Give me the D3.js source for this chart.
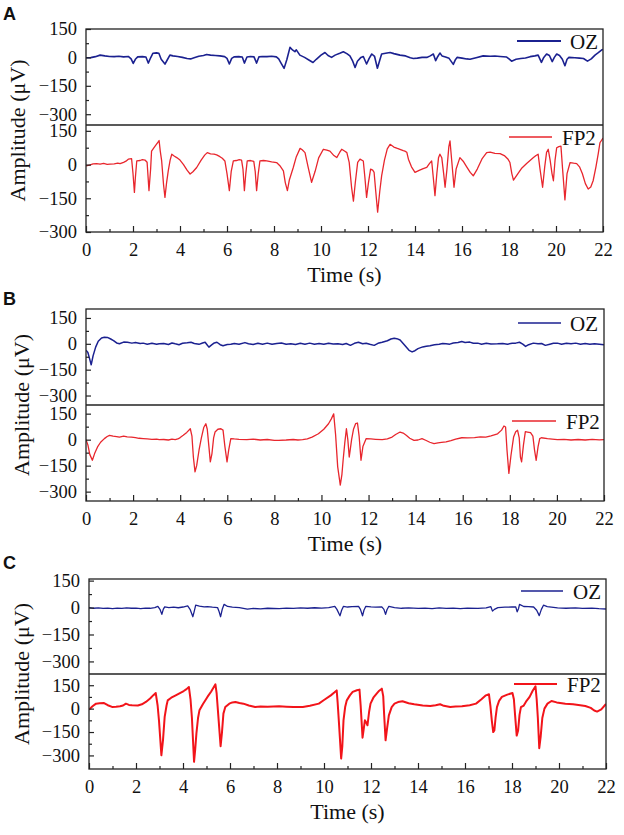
<!DOCTYPE html>
<html>
<head>
<meta charset="utf-8">
<script src="https://cdn.jsdelivr.net/npm/d3@7"></script>
<style>
  body { margin: 0; background: #fff; }
</style>
</head>
<body>
<svg id="fig" width="624" height="835"></svg>
<script>
// ---- data: [time (s), amplitude (uV)] ----
var aOZ = [[0,-2],[0.2,-1],[0.4,4],[0.6,12],[0.8,8],[1.0,5],[1.2,4],[1.4,6],[1.6,3],[1.8,5],[1.92,-8],[2.01,-32],[2.1,-10],[2.2,3],[2.4,4],[2.55,2],[2.65,-30],[2.75,-2],[2.85,22],[3.0,24],[3.1,22],[3.2,-10],[3.36,-35],[3.45,-15],[3.57,12],[3.7,8],[3.9,5],[4.1,0],[4.3,-6],[4.45,-8],[4.6,-2],[4.8,6],[5.0,10],[5.13,15],[5.3,12],[5.5,10],[5.7,8],[5.9,4],[6.0,-5],[6.1,-35],[6.2,-5],[6.3,3],[6.5,4],[6.65,2],[6.74,-30],[6.85,2],[7.0,5],[7.15,3],[7.26,-30],[7.36,3],[7.5,5],[7.7,4],[7.9,6],[8.1,3],[8.2,-8],[8.3,-30],[8.43,-58],[8.55,-10],[8.68,53],[8.8,38],[8.89,30],[8.95,40],[9.1,12],[9.3,0],[9.5,-15],[9.66,-27],[9.8,-10],[10.0,12],[10.17,26],[10.3,10],[10.45,0],[10.6,12],[10.8,22],[10.95,30],[11.1,20],[11.23,8],[11.35,-20],[11.45,-53],[11.55,-20],[11.7,0],[11.8,5],[11.94,-35],[12.05,-5],[12.16,18],[12.28,5],[12.4,-57],[12.5,-15],[12.58,18],[12.75,22],[12.94,26],[13.1,20],[13.36,12],[13.6,8],[13.8,-2],[13.93,-6],[14.1,-4],[14.3,0],[14.5,0],[14.65,8],[14.78,18],[14.88,-17],[14.97,5],[15.06,23],[15.15,8],[15.3,2],[15.45,-5],[15.63,-37],[15.72,-12],[15.79,0],[16.0,-4],[16.2,-8],[16.34,-10],[16.6,-2],[16.9,8],[17.2,6],[17.4,7],[17.62,5],[17.9,2],[18.0,-8],[18.11,-20],[18.3,-10],[18.5,-6],[18.7,-3],[18.9,4],[19.1,8],[19.24,12],[19.38,-26],[19.48,0],[19.6,18],[19.72,10],[19.84,-22],[19.93,0],[20.03,18],[20.15,10],[20.27,-10],[20.38,-44],[20.47,-10],[20.55,0],[20.8,-2],[21.0,-4],[21.17,-6],[21.34,-20],[21.5,-8],[21.66,12],[21.8,25],[21.95,40],[22,42]];

var aFP2 = [[0,-6],[0.15,-2],[0.3,3],[0.45,4],[0.6,2],[0.75,5],[0.9,1],[1.02,2],[1.2,3],[1.35,6],[1.45,4],[1.6,10],[1.7,15],[1.8,24],[1.94,26],[2.0,-40],[2.06,-124],[2.1,-60],[2.16,16],[2.3,18],[2.4,22],[2.51,20],[2.6,10],[2.68,-116],[2.75,-20],[2.79,60],[2.94,82],[3.05,98],[3.11,107],[3.16,60],[3.22,16],[3.3,-90],[3.36,-146],[3.43,-80],[3.5,-28],[3.58,20],[3.65,46],[3.75,38],[3.86,31],[4.0,20],[4.15,0],[4.3,-25],[4.43,-42],[4.55,-32],[4.71,-13],[4.9,20],[5.05,42],[5.16,53],[5.3,48],[5.45,46],[5.56,43],[5.7,35],[5.8,28],[5.91,16],[6.0,-40],[6.1,-116],[6.18,-30],[6.27,16],[6.4,18],[6.52,22],[6.62,20],[6.68,-20],[6.74,-116],[6.8,-40],[6.86,16],[7.0,18],[7.14,14],[7.2,-30],[7.26,-116],[7.33,-40],[7.4,16],[7.55,18],[7.69,16],[7.9,12],[8.11,9],[8.25,-5],[8.4,-28],[8.48,-80],[8.57,-116],[8.65,-70],[8.82,-13],[8.95,35],[9.11,72],[9.2,66],[9.32,53],[9.45,-10],[9.6,-79],[9.75,-30],[9.9,30],[10.1,68],[10.25,64],[10.38,60],[10.55,40],[10.67,31],[10.8,55],[10.88,68],[11.0,60],[11.1,53],[11.2,10],[11.3,-100],[11.38,-163],[11.46,-80],[11.56,10],[11.66,24],[11.8,16],[11.87,-60],[11.94,-146],[12.02,-80],[12.11,-20],[12.2,-25],[12.26,-35],[12.33,-120],[12.41,-212],[12.5,-120],[12.58,-50],[12.7,20],[12.82,70],[12.94,90],[13.1,78],[13.25,72],[13.36,68],[13.5,62],[13.57,60],[13.65,55],[13.72,24],[13.85,-10],[14.0,-35],[14.2,-25],[14.35,-18],[14.5,-13],[14.62,5],[14.71,16],[14.78,-60],[14.85,-138],[14.93,-40],[15.0,30],[15.06,46],[15.14,30],[15.22,-40],[15.28,-101],[15.36,-20],[15.44,80],[15.49,105],[15.56,20],[15.66,-101],[15.75,-20],[15.91,31],[16.05,15],[16.2,-10],[16.35,-35],[16.48,-50],[16.65,-20],[16.85,25],[17.05,53],[17.2,55],[17.4,50],[17.62,49],[17.8,40],[17.95,25],[18.04,9],[18.12,-40],[18.19,-69],[18.35,-45],[18.55,-15],[18.75,5],[19.04,31],[19.15,40],[19.24,46],[19.32,-20],[19.43,-101],[19.52,-10],[19.6,55],[19.67,68],[19.75,20],[19.83,-40],[19.89,-72],[19.96,20],[20.03,75],[20.12,80],[20.21,82],[20.28,-20],[20.38,-157],[20.47,-40],[20.6,9],[20.75,6],[20.88,4],[21.0,-10],[21.12,-40],[21.25,-85],[21.37,-109],[21.48,-100],[21.58,-72],[21.7,-10],[21.8,50],[21.87,97],[22,118]];

var bOZ = [[0,-37],[0.08,-50],[0.16,-90],[0.22,-122],[0.3,-70],[0.41,-19],[0.52,15],[0.66,34],[0.78,38],[0.91,37],[1.05,28],[1.17,19],[1.3,5],[1.42,0],[1.6,10],[1.76,9],[1.95,4],[2.1,7],[2.3,2],[2.43,4],[2.6,-2],[2.8,3],[3.0,-3],[3.11,0],[3.3,2],[3.5,-4],[3.65,5],[3.79,0],[3.95,-5],[4.1,3],[4.3,6],[4.46,9],[4.6,2],[4.8,-3],[4.95,5],[5.06,9],[5.14,-5],[5.22,-19],[5.35,-5],[5.45,5],[5.56,9],[5.7,-5],[5.82,-11],[6.0,-4],[6.15,-3],[6.3,2],[6.5,-2],[6.75,7],[6.9,0],[7.1,-4],[7.3,3],[7.5,-2],[7.7,4],[7.9,-3],[8.1,2],[8.3,5],[8.5,-3],[8.7,1],[8.9,-4],[9.1,3],[9.3,-2],[9.5,4],[9.7,-3],[9.9,2],[10.1,-2],[10.3,3],[10.5,-1],[10.7,0],[10.9,-4],[11.05,2],[11.23,-9],[11.4,3],[11.57,9],[11.75,0],[11.9,3],[12.05,-3],[12.24,-9],[12.4,3],[12.58,9],[12.8,18],[12.95,28],[13.09,32],[13.2,30],[13.34,22],[13.47,2],[13.6,-19],[13.72,-38],[13.85,-47],[13.97,-40],[14.1,-28],[14.3,-18],[14.45,-14],[14.61,-11],[14.8,-6],[15.0,-3],[15.15,2],[15.29,0],[15.45,-2],[15.6,5],[15.8,8],[15.96,13],[16.1,8],[16.3,10],[16.45,3],[16.64,4],[16.8,-2],[17.0,3],[17.2,-1],[17.48,0],[17.7,2],[17.9,-2],[18.1,3],[18.25,4],[18.41,9],[18.55,-2],[18.67,-15],[18.8,-5],[19.0,4],[19.2,0],[19.35,2],[19.51,-9],[19.7,-2],[19.85,3],[20.02,4],[20.2,-2],[20.4,3],[20.6,0],[20.8,4],[21.0,-2],[21.2,2],[21.4,-3],[21.6,1],[21.8,-2],[22,-6]];

var bFP2 = [[0,0],[0.08,-30],[0.16,-85],[0.27,-119],[0.38,-75],[0.49,-42],[0.62,-15],[0.78,6],[0.9,18],[1.0,25],[1.15,20],[1.3,18],[1.42,15],[1.6,20],[1.75,16],[1.93,15],[2.1,12],[2.25,8],[2.43,6],[2.6,4],[2.8,2],[3.0,3],[3.11,0],[3.3,1],[3.5,-2],[3.65,3],[3.79,0],[3.9,4],[4.0,12],[4.13,25],[4.28,42],[4.43,63],[4.5,20],[4.56,-100],[4.63,-186],[4.7,-150],[4.8,-61],[4.9,10],[5.0,70],[5.09,92],[5.15,60],[5.22,-40],[5.28,-128],[5.35,-80],[5.42,10],[5.48,44],[5.6,60],[5.73,63],[5.82,55],[5.9,-40],[5.99,-128],[6.06,-60],[6.15,6],[6.3,4],[6.5,2],[6.83,0],[7.1,3],[7.4,-2],[7.7,1],[8.0,-4],[8.18,-4],[8.5,-2],[8.8,1],[9.0,-2],[9.2,0],[9.4,5],[9.6,15],[9.87,34],[10.1,60],[10.3,92],[10.42,120],[10.52,149],[10.6,30],[10.69,-157],[10.8,-262],[10.87,-200],[10.92,-119],[10.99,-20],[11.06,63],[11.12,0],[11.18,-100],[11.23,-50],[11.28,0],[11.36,60],[11.45,92],[11.53,96],[11.6,20],[11.68,-119],[11.76,-40],[11.9,6],[12.1,4],[12.3,2],[12.58,0],[12.8,5],[13.0,15],[13.15,30],[13.34,44],[13.47,38],[13.6,25],[13.75,8],[13.93,-4],[14.1,-2],[14.27,6],[14.45,-5],[14.6,-15],[14.78,-23],[14.95,-18],[15.1,-16],[15.29,-13],[15.5,-6],[15.7,3],[15.96,11],[16.2,10],[16.5,12],[16.75,16],[16.98,15],[17.2,22],[17.48,34],[17.65,55],[17.75,79],[17.82,73],[17.88,-60],[17.96,-195],[18.05,-90],[18.16,15],[18.25,45],[18.33,54],[18.4,10],[18.45,-100],[18.5,-128],[18.58,-30],[18.66,46],[18.75,44],[18.88,40],[18.98,20],[19.05,-60],[19.12,-119],[19.2,-40],[19.27,6],[19.34,11],[19.6,6],[19.8,3],[20.02,0],[20.3,2],[20.6,-2],[20.9,1],[21.2,-2],[21.5,2],[21.8,-1],[22,0]];

var cOZ = [[0,0],[0.2,-4],[0.4,-2],[0.6,-5],[0.8,-3],[1.0,-6],[1.2,-3],[1.4,-5],[1.6,-2],[1.8,-4],[2.0,-3],[2.2,-6],[2.4,-3],[2.6,-4],[2.8,0],[2.93,7],[3.02,-10],[3.1,-38],[3.16,-10],[3.22,4],[3.4,0],[3.6,2],[3.8,-1],[4.0,3],[4.2,9],[4.3,-10],[4.42,-51],[4.48,-20],[4.54,13],[4.7,8],[4.9,4],[5.04,5],[5.25,2],[5.47,0],[5.53,-20],[5.6,-51],[5.67,-10],[5.75,18],[5.9,6],[6.1,2],[6.4,0],[6.74,-9],[7.0,-5],[7.3,-7],[7.6,-4],[8.09,-6],[8.4,-3],[8.7,-5],[9.0,-2],[9.3,-4],[9.6,-1],[9.9,-3],[10.2,0],[10.46,7],[10.55,-10],[10.68,-46],[10.75,-15],[10.83,7],[11.0,3],[11.2,5],[11.47,7],[11.55,-10],[11.64,-46],[11.7,-15],[11.78,7],[12.0,4],[12.2,2],[12.46,4],[12.55,-10],[12.62,-38],[12.68,-12],[12.76,7],[13.0,0],[13.3,-4],[13.6,-2],[14.01,-5],[14.3,-3],[14.6,-6],[14.9,-2],[15.2,-5],[15.5,-3],[15.8,-6],[16.1,-3],[16.55,-5],[16.9,-2],[17.1,5],[17.17,-20],[17.25,-10],[17.4,0],[17.7,2],[18.0,3],[18.16,4],[18.22,-24],[18.28,-5],[18.32,18],[18.5,6],[18.7,5],[18.92,3],[19.05,-15],[19.16,-45],[19.25,-10],[19.34,13],[19.5,5],[19.94,-2],[20.3,-4],[20.7,-2],[21.0,-5],[21.4,-3],[21.7,-6],[22,-8]];

var cFP2 = [[0,-6],[0.15,15],[0.3,32],[0.45,34],[0.64,36],[0.8,22],[0.98,11],[1.15,12],[1.32,15],[1.45,20],[1.57,32],[1.7,24],[1.83,21],[2.08,20],[2.25,28],[2.42,43],[2.6,65],[2.75,88],[2.84,100],[2.92,20],[2.98,-80],[3.08,-299],[3.15,-200],[3.22,-53],[3.3,20],[3.35,53],[3.5,70],[3.69,85],[3.85,98],[4.03,113],[4.15,125],[4.25,139],[4.32,60],[4.38,-60],[4.47,-341],[4.52,-260],[4.57,-160],[4.64,-60],[4.7,-11],[4.85,30],[5.04,75],[5.2,110],[5.38,156],[5.43,100],[5.5,-40],[5.6,-241],[5.66,-150],[5.72,-32],[5.8,10],[5.97,32],[6.1,40],[6.23,43],[6.4,36],[6.57,32],[6.8,20],[7.07,11],[7.3,14],[7.6,12],[8.09,15],[8.4,12],[8.7,10],[9.1,11],[9.4,18],[9.78,32],[10.0,55],[10.29,85],[10.45,105],[10.54,117],[10.58,40],[10.63,-75],[10.73,-320],[10.78,-240],[10.83,-75],[10.9,10],[10.97,53],[11.1,85],[11.22,107],[11.4,118],[11.51,122],[11.56,20],[11.64,-186],[11.7,-120],[11.74,-75],[11.8,-90],[11.85,-107],[11.92,-20],[11.98,32],[12.1,70],[12.24,96],[12.35,115],[12.46,128],[12.52,80],[12.56,-40],[12.62,-203],[12.69,-120],[12.76,-43],[12.88,10],[13.0,32],[13.15,42],[13.34,47],[13.6,35],[13.84,28],[14.2,20],[14.52,17],[14.75,22],[14.94,28],[15.1,18],[15.37,11],[15.6,14],[15.87,15],[16.2,22],[16.47,32],[16.7,60],[16.89,85],[17.02,92],[17.08,20],[17.14,-75],[17.2,-150],[17.25,-140],[17.3,-60],[17.36,10],[17.45,50],[17.57,75],[17.8,90],[18.02,100],[18.08,60],[18.13,-40],[18.2,-173],[18.26,-140],[18.32,-40],[18.38,10],[18.5,20],[18.62,50],[18.75,75],[18.88,115],[19.0,143],[19.05,60],[19.1,-60],[19.16,-254],[19.22,-180],[19.29,-60],[19.38,0],[19.51,32],[19.68,49],[19.9,40],[20.27,32],[20.6,28],[20.9,22],[21.12,17],[21.35,5],[21.5,-12],[21.62,-19],[21.8,-5],[22,30]];

var xTicks = [0, 2, 4, 6, 8, 10, 12, 14, 16, 18, 20, 22];
var xMinor = [1, 3, 5, 7, 9, 11, 13, 15, 17, 19, 21];
var yTicks = [150, 0, -150, -300];
var yMinor = [75, -75, -225];
var channelNames = ['OZ', 'FP2'];
var panelLetters = ['A', 'B', 'C'];

// ---- layout ----
var ozColor = '#1b2190', fpColor = '#e8262d';
var serif = '"Liberation Serif", "Times New Roman", serif';
var panels = [
  { left: 86, right: 603, top: 29, split: 125, bottom: 232, ozDom: [-357, 150], fpDom: [-300, 176],
    oz: aOZ, fp: aFP2, ozW: 1.6, fpW: 1.3, fpColor: fpColor, yLabX: 25, letterY: 19.5,
    legOZ: { x1: 517, x2: 561, dy: 12, tx: 570 }, legFP: { x1: 509, x2: 552, dy: 12, tx: 562 } },
  { left: 86, right: 604, top: 309, split: 405, bottom: 501, ozDom: [-355, 202], fpDom: [-354, 200],
    oz: bOZ, fp: bFP2, ozW: 1.5, fpW: 1.3, fpColor: fpColor, yLabX: 29, letterY: 305,
    legOZ: { x1: 518, x2: 561, dy: 14, tx: 570 }, legFP: { x1: 512, x2: 556, dy: 16, tx: 566 } },
  { left: 89, right: 606, top: 579, split: 674, bottom: 769, ozDom: [-370, 159], fpDom: [-387, 222],
    oz: cOZ, fp: cFP2, ozW: 1.3, fpW: 2.0, fpColor: '#f2141a', yLabX: 29, letterY: 569,
    legOZ: { x1: 521, x2: 563, dy: 12, tx: 573 }, legFP: { x1: 514, x2: 557, dy: 10, tx: 567 } }
];

var svg = d3.select('#fig');

function styleAxis(ax) {
  ax.select('.domain').remove();
  ax.selectAll('text').style('font-family', serif).style('font-size', '18.5px').attr('fill', '#111');
  ax.selectAll('line').attr('stroke', '#222').attr('stroke-width', 1.2);
}

panels.forEach(function(p, i) {
  var g = svg.append('g');
  var x = d3.scaleLinear().domain([0, 22]).range([p.left, p.right]);
  var yTop = d3.scaleLinear().domain(p.ozDom).range([p.split, p.top]);
  var yBot = d3.scaleLinear().domain(p.fpDom).range([p.bottom, p.split]);

  var subs = [
    { y: yTop, data: p.oz, color: ozColor, w: p.ozW, y0: p.top, y1: p.split, dom: p.ozDom, leg: p.legOZ, name: channelNames[0] },
    { y: yBot, data: p.fp, color: p.fpColor, w: p.fpW, y0: p.split, y1: p.bottom, dom: p.fpDom, leg: p.legFP, name: channelNames[1] }
  ];

  subs.forEach(function(s, j) {
    var clipId = 'clip' + i + '_' + j;
    svg.append('clipPath').attr('id', clipId).append('rect')
      .attr('x', p.left).attr('y', s.y0).attr('width', p.right - p.left).attr('height', s.y1 - s.y0);

    var line = d3.line().x(function(d) { return x(d[0]); }).y(function(d) { return s.y(d[1]); });
    g.append('path').datum(s.data)
      .attr('clip-path', 'url(#' + clipId + ')')
      .attr('d', line)
      .attr('fill', 'none')
      .attr('stroke', s.color)
      .attr('stroke-width', s.w)
      .attr('stroke-linejoin', 'round');

    // y axis, ticks pointing inward
    var inDom = function(v) { return v >= s.dom[0] && v <= s.dom[1]; };
    var ax = g.append('g').attr('transform', 'translate(' + p.left + ',0)')
      .call(d3.axisLeft(s.y).tickValues(yTicks.filter(inDom)).tickSize(-5).tickPadding(9));
    styleAxis(ax);
    var axm = g.append('g').attr('transform', 'translate(' + p.left + ',0)')
      .call(d3.axisLeft(s.y).tickValues(yMinor.filter(inDom)).tickSize(-3).tickFormat(''));
    styleAxis(axm);

    // legend
    var ly = s.y0 + s.leg.dy;
    g.append('line').attr('x1', s.leg.x1).attr('x2', s.leg.x2).attr('y1', ly).attr('y2', ly)
      .attr('stroke', s.color).attr('stroke-width', s.w + 0.2);
    g.append('text').attr('x', s.leg.tx).attr('y', ly + 7.5)
      .style('font-family', serif).style('font-size', '21px').attr('fill', '#111').text(s.name);
  });

  // x axis on the lower subplot
  var xa = g.append('g').attr('transform', 'translate(0,' + p.bottom + ')')
    .call(d3.axisBottom(x).tickValues(xTicks).tickSize(-6).tickPadding(11).tickFormat(d3.format('d')));
  styleAxis(xa);
  var xm = g.append('g').attr('transform', 'translate(0,' + p.bottom + ')')
    .call(d3.axisBottom(x).tickValues(xMinor).tickSize(-3).tickFormat(''));
  styleAxis(xm);

  // frame
  g.append('rect').attr('x', p.left).attr('y', p.top)
    .attr('width', p.right - p.left).attr('height', p.bottom - p.top)
    .attr('fill', 'none').attr('stroke', '#222').attr('stroke-width', 1.3);
  g.append('line').attr('x1', p.left).attr('x2', p.right).attr('y1', p.split).attr('y2', p.split)
    .attr('stroke', '#222').attr('stroke-width', 1.3);

  // axis titles
  g.append('text').attr('x', (p.left + p.right) / 2).attr('y', p.bottom + 50)
    .attr('text-anchor', 'middle').style('font-family', serif).style('font-size', '22px')
    .attr('fill', '#111').text('Time (s)');
  g.append('text')
    .attr('transform', 'translate(' + p.yLabX + ',' + ((p.top + p.bottom) / 2) + ') rotate(-90)')
    .attr('text-anchor', 'middle').style('font-family', serif).style('font-size', '22px')
    .attr('fill', '#111').text('Amplitude (\u03bcV)');

  // panel letter
  g.append('text').attr('x', 3).attr('y', p.letterY)
    .style('font-family', '"Liberation Sans", Arial, sans-serif').style('font-size', '18px')
    .attr('font-weight', 'bold').attr('fill', '#111')
    .text(panelLetters[i]);
});
</script>
</body>
</html>
